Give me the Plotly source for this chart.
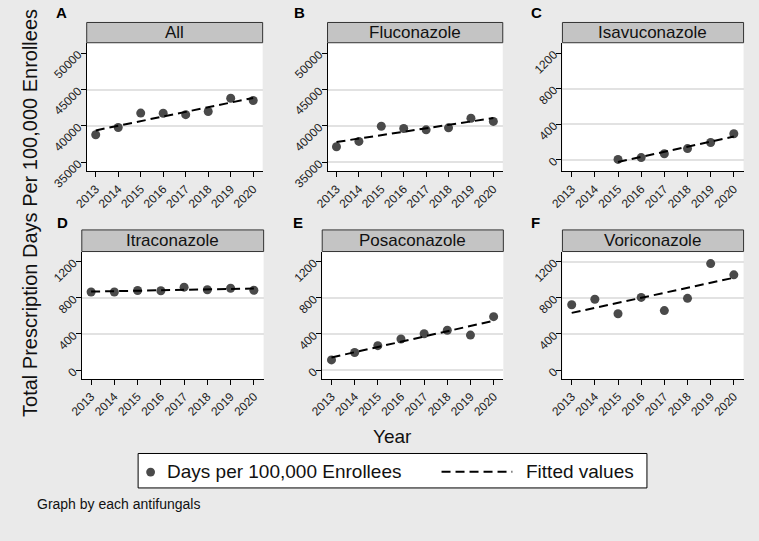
import numpy as np
import plotly.graph_objects as go

# ---------------- data ----------------
years = [2013, 2014, 2015, 2016, 2017, 2018, 2019, 2020]
panel_titles = ["All", "Fluconazole", "Isavuconazole", "Itraconazole", "Posaconazole", "Voriconazole"]
panel_letters = ["A", "B", "C", "D", "E", "F"]

days_all = [38800, 39780, 41760, 41750, 41550, 41990, 43800, 43500]
days_fluconazole = [37140, 37880, 39960, 39650, 39470, 39740, 41060, 40620]
days_isavuconazole = [None, None, 5, 26, 69, 127, 195, 293]
days_itraconazole = [864, 864, 880, 877, 917, 888, 905, 883]
days_posaconazole = [114, 196, 271, 345, 402, 441, 388, 591]
days_voriconazole = [722, 783, 623, 804, 658, 793, 1177, 1053]

y_ticks_large = [35000, 40000, 45000, 50000]
y_ticks_small = [0, 400, 800, 1200]

# gridlines visible in each panel of the reference
grid_all = [40000, 45000]
grid_fluconazole = [35000, 40000, 45000]
grid_isavuconazole = [0, 400, 800]
grid_itraconazole = [400, 800]
grid_posaconazole = [0, 400, 800]
grid_voriconazole = [400, 800, 1200]

series = [days_all, days_fluconazole, days_isavuconazole,
          days_itraconazole, days_posaconazole, days_voriconazole]
y_ticks = [y_ticks_large, y_ticks_large, y_ticks_small,
           y_ticks_small, y_ticks_small, y_ticks_small]
grids = [grid_all, grid_fluconazole, grid_isavuconazole,
         grid_itraconazole, grid_posaconazole, grid_voriconazole]

# ---------------- layout geometry (pixels) ----------------
W, H = 759, 541
FONT = "Liberation Sans, Arial, Helvetica, sans-serif"
BG = "#EAEAEA"
MARKER = "#4A4A4A"


def px_x(v):
    return v / W


def px_y(v):
    return 1 - v / H


geo = [
    dict(x0=75, x1=254, top=44.3, bottom=177.5, strip=23.3, yr=[33780, 51420], letter=(49, 13)),
    dict(x0=320, x1=498.3, top=44.3, bottom=177.5, strip=23.3, yr=[33780, 51420], letter=(291, 13)),
    dict(x0=559, x1=743.3, top=44.3, bottom=177.5, strip=23.3, yr=[-128, 1316], letter=(533, 13)),
    dict(x0=70, x1=255, top=260.7, bottom=392.7, strip=238.3, yr=[-96, 1310], letter=(50, 230.5)),
    dict(x0=314.6, x1=498.9, top=260.7, bottom=392.7, strip=238.3, yr=[-96, 1310], letter=(290, 230.5)),
    dict(x0=559, x1=743.3, top=260.7, bottom=392.7, strip=238.3, yr=[-96, 1310], letter=(532, 230.5)),
]
x_range = [2012.6, 2020.42]

fig = go.Figure()
shapes = []
annotations = []
layout_axes = {}

for i, (vals, g) in enumerate(zip(series, geo)):
    n = i + 1
    xa = "x" if n == 1 else f"x{n}"
    ya = "y" if n == 1 else f"y{n}"
    xkey = "xaxis" if n == 1 else f"xaxis{n}"
    ykey = "yaxis" if n == 1 else f"yaxis{n}"

    xs = [x for x, v in zip(years, vals) if v is not None]
    ys = [v for v in vals if v is not None]

    fig.add_trace(go.Scatter(
        x=xs, y=ys, mode="markers", xaxis=xa, yaxis=ya,
        marker=dict(size=9, color=MARKER, line=dict(width=0)),
        name="Days per 100,000 Enrollees", showlegend=False,
        hoverinfo="x+y"))

    slope, intercept = np.polyfit(xs, ys, 1)
    fx = [min(xs), max(xs)]
    fy = [slope * x + intercept for x in fx]
    fig.add_trace(go.Scatter(
        x=fx, y=fy, mode="lines", xaxis=xa, yaxis=ya,
        line=dict(color="black", width=2, dash="9px,5px"),
        name="Fitted values", showlegend=False, hoverinfo="skip"))

    layout_axes[xkey] = dict(
        domain=[px_x(g["x0"]), px_x(g["x1"])], anchor=ya, range=x_range,
        tickmode="array", tickvals=years, ticktext=[str(y) for y in years],
        tickangle=-45, ticks="outside", ticklen=5, tickcolor="black", tickwidth=1,
        showline=True, linecolor="black", linewidth=1, showgrid=False, zeroline=False,
        tickfont=dict(size=12, color="#222222", family=FONT), fixedrange=True)
    layout_axes[ykey] = dict(
        domain=[px_y(g["bottom"]), px_y(g["top"])], anchor=xa, range=g["yr"],
        tickmode="array", tickvals=y_ticks[i], ticktext=[str(t) for t in y_ticks[i]],
        tickangle=-45, ticks="outside", ticklen=5, tickcolor="black", tickwidth=1,
        showline=True, linecolor="black", linewidth=1, showgrid=False, zeroline=False,
        minor=dict(tickmode="array", tickvals=grids[i], ticks="", showgrid=True,
                   gridcolor="#E2E2E2", gridwidth=1.5),
        tickfont=dict(size=12, color="#222222", family=FONT), fixedrange=True)

    # strip (panel header)
    shapes.append(dict(type="rect", xref="paper", yref="paper",
                       x0=px_x(g["x0"]), x1=px_x(g["x1"]),
                       y0=px_y(g["top"]), y1=px_y(g["strip"]),
                       fillcolor="#C4C4C4", line=dict(color="#333333", width=1), layer="above"))
    annotations.append(dict(text=panel_titles[i], xref="paper", yref="paper",
                            x=px_x((g["x0"] + g["x1"]) / 2), y=px_y((g["top"] + g["strip"]) / 2),
                            xanchor="center", yanchor="middle", showarrow=False,
                            font=dict(size=17, color="#111111", family=FONT)))
    # panel letter
    lx, ly = g["letter"]
    annotations.append(dict(text=f"<b>{panel_letters[i]}</b>", xref="paper", yref="paper",
                            x=px_x(lx), y=px_y(ly), xanchor="center", yanchor="middle",
                            showarrow=False, font=dict(size=15, color="black", family=FONT)))

# axis titles
annotations.append(dict(text="Total Prescription Days Per 100,000 Enrollees", xref="paper", yref="paper",
                        x=px_x(18), y=px_y(221), xanchor="center", yanchor="middle",
                        textangle=-90, showarrow=False,
                        font=dict(size=20, color="#111111", family=FONT)))
annotations.append(dict(text="Year", xref="paper", yref="paper",
                        x=px_x(386), y=px_y(452), xanchor="center", yanchor="middle",
                        showarrow=False, font=dict(size=19, color="#111111", family=FONT)))

# legend box (drawn manually to match the reference's key layout)
shapes.append(dict(type="rect", xref="paper", yref="paper",
                   x0=px_x(127.3), x1=px_x(645), y0=px_y(505.7), y1=px_y(470),
                   fillcolor="white", line=dict(color="black", width=1)))
shapes.append(dict(type="circle", xref="paper", yref="paper",
                   x0=px_x(135.5), x1=px_x(144.5), y0=px_y(493.8), y1=px_y(484.8),
                   fillcolor=MARKER, line=dict(width=0)))
shapes.append(dict(type="line", xref="paper", yref="paper",
                   x0=px_x(436), x1=px_x(508), y0=px_y(489), y1=px_y(489),
                   line=dict(color="black", width=2, dash="9px,5px")))
annotations.append(dict(text="Days per 100,000 Enrollees", xref="paper", yref="paper",
                        x=px_x(155), y=px_y(489), xanchor="left", yanchor="middle",
                        showarrow=False, font=dict(size=19, color="#111111", family=FONT)))
annotations.append(dict(text="Fitted values", xref="paper", yref="paper",
                        x=px_x(520), y=px_y(489), xanchor="left", yanchor="middle",
                        showarrow=False, font=dict(size=19, color="#111111", family=FONT)))
annotations.append(dict(text="Graph by each antifungals", xref="paper", yref="paper",
                        x=px_x(22), y=px_y(522), xanchor="left", yanchor="middle",
                        showarrow=False, font=dict(size=14, color="#111111", family=FONT)))

fig.update_layout(
    width=W, height=H, autosize=False,
    margin=dict(l=0, r=0, t=0, b=0),
    paper_bgcolor=BG, plot_bgcolor="white",
    showlegend=False,
    font=dict(family=FONT, color="#111111"),
    shapes=shapes, annotations=annotations,
    **layout_axes)

fig.write_html(
    "out.html",
    config={"displayModeBar": False},
    post_script="document.body.style.margin='0';document.body.style.padding='0';"
                "document.body.style.overflow='hidden';"
                "document.documentElement.style.background='" + BG + "';")
